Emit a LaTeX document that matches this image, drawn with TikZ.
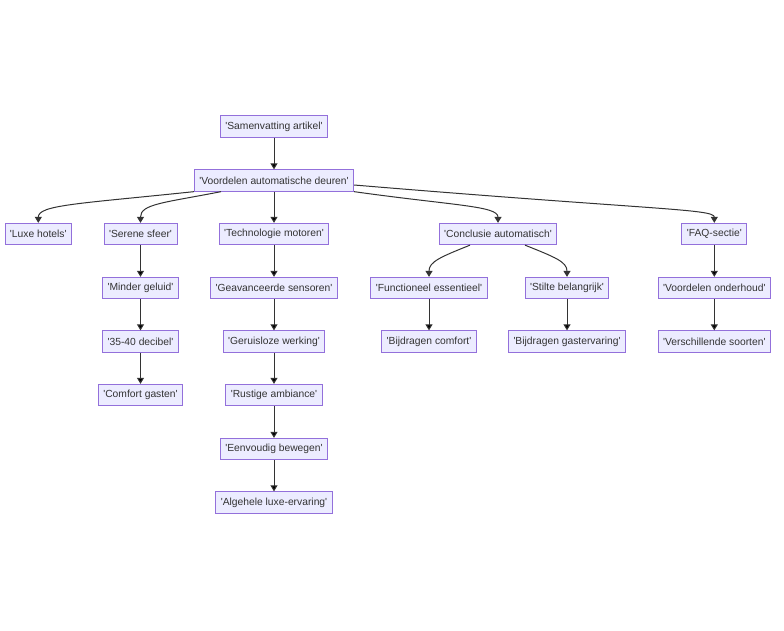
\documentclass[tikz,border=0pt]{standalone}
\usepackage{fontspec}
\setmainfont{Liberation Sans}[Ligatures=TeXOff]
\usetikzlibrary{arrows.meta}
\definecolor{boxfill}{HTML}{ECECFF}
\definecolor{boxline}{HTML}{9370DB}
\definecolor{ink}{HTML}{333333}
\begin{document}
\begin{tikzpicture}[x=1pt, y=-1pt,
  box/.style={shape=rectangle, draw=boxline, fill=boxfill, line width=0.8pt, text=ink,
    font=\fontsize{10.3pt}{12pt}\selectfont, minimum height=21.5pt, inner xsep=5pt, inner ysep=0pt},
  link/.style={-{Triangle[length=6pt,width=7pt]}, line width=1pt, draw=ink}]
\useasboundingbox (0,0) rectangle (784,630);
\node[box] (sam) at (274,126.5) {'Samenvatting artikel'};
\node[box] (voord) at (274,180.5) {'Voordelen automatische deuren'};
\node[box] (luxe) at (38.3,234) {'Luxe hotels'};
\node[box] (serene) at (140.5,234) {'Serene sfeer'};
\node[box] (tech) at (274,234) {'Technologie motoren'};
\node[box] (concl) at (498,234) {'Conclusie automatisch'};
\node[box] (faq) at (714.3,234) {'FAQ-sectie'};
\node[box] (minder) at (140.5,288) {'Minder geluid'};
\node[box] (geav) at (274,288) {'Geavanceerde sensoren'};
\node[box] (func) at (429,288) {'Functioneel essentieel'};
\node[box] (stilte) at (567,288) {'Stilte belangrijk'};
\node[box] (vonder) at (714.3,288) {'Voordelen onderhoud'};
\node[box] (decibel) at (140.5,341.5) {'35-40 decibel'};
\node[box] (geruis) at (274,341.5) {'Geruisloze werking'};
\node[box] (bcomf) at (429,341.5) {'Bijdragen comfort'};
\node[box] (bgast) at (567,341.5) {'Bijdragen gastervaring'};
\node[box] (versch) at (714.3,341.5) {'Verschillende soorten'};
\node[box] (comfort) at (140.5,395) {'Comfort gasten'};
\node[box] (rustig) at (274,395) {'Rustige ambiance'};
\node[box] (eenv) at (274,449) {'Eenvoudig bewegen'};
\node[box] (algeh) at (274,502.5) {'Algehele luxe-ervaring'};
\path [link] (sam) edge (voord);
\path [link] (voord) edge (tech);
\draw [link] (voord.south west) .. controls +(-114,12) and +(0,-18) .. (luxe.north);
\draw [link] ([xshift=-53pt]voord.south) .. controls +(-56,11) and +(0,-19) .. (serene.north);
\draw [link] (voord.south east) .. controls +(100,14) and +(0,-17) .. (concl.north);
\draw [link] ([yshift=-4.5pt]voord.east) .. controls +(300,25) and +(0,-14) .. (faq.north);
\draw [link] ([xshift=-28pt]concl.south) .. controls +(-30,12) and +(0,-15) .. (func.north);
\draw [link] ([xshift=27pt]concl.south) .. controls +(30,12) and +(0,-15) .. (stilte.north);
\path [link] (serene) edge (minder);
\path [link] (minder) edge (decibel);
\path [link] (decibel) edge (comfort);
\path [link] (tech) edge (geav);
\path [link] (geav) edge (geruis);
\path [link] (geruis) edge (rustig);
\path [link] (rustig) edge (eenv);
\path [link] (eenv) edge (algeh);
\path [link] (func) edge (bcomf);
\path [link] (stilte) edge (bgast);
\path [link] (faq) edge (vonder);
\path [link] (vonder) edge (versch);
\end{tikzpicture}
\end{document}
